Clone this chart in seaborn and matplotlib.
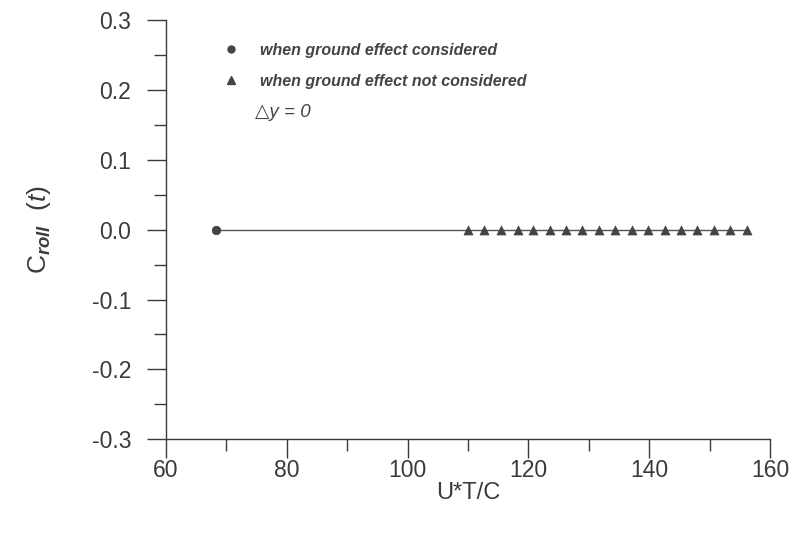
import numpy as np
import pandas as pd
import seaborn as sns
import matplotlib.pyplot as plt
from matplotlib.ticker import MultipleLocator
from matplotlib.lines import Line2D

# data
ge_x = [68.3]
ge_y = [0.0]
noge_x = [110.0, 112.7, 115.4, 118.2, 120.8, 123.5, 126.2, 128.9, 131.7,
          134.4, 137.1, 139.8, 142.6, 145.2, 147.9, 150.7, 153.4, 156.1]
noge_y = [0.0] * len(noge_x)
legend_labels = ["when ground effect considered", "when ground effect not considered"]

sns.set_style("ticks")
plt.rcParams["font.family"] = ["Liberation Sans", "DejaVu Sans"]
plt.rcParams.update({
    "mathtext.fontset": "custom",
    "mathtext.rm": "Liberation Sans",
    "mathtext.it": "Liberation Sans:italic",
    "mathtext.bf": "Liberation Sans:italic:bold",
})

ink = "#3a3a3a"
df_ge = pd.DataFrame({"x": ge_x, "y": ge_y})
df_noge = pd.DataFrame({"x": noge_x, "y": noge_y})
df_line = pd.concat([df_ge, df_noge]).sort_values("x")

fig = plt.figure(figsize=(7.98, 5.33), dpi=100)
ax = fig.add_axes([0.208, 0.176, 0.757, 0.786])

sns.lineplot(data=df_line, x="x", y="y", color="#555555", linewidth=1.0, ax=ax)
sns.scatterplot(data=df_ge, x="x", y="y", marker="o", s=38, color="#444444",
                edgecolor="#444444", ax=ax, zorder=3)
sns.scatterplot(data=df_noge, x="x", y="y", marker="^", s=42, color="#444444",
                edgecolor="#444444", ax=ax, zorder=3)

ax.set_xlim(60, 160)
ax.set_ylim(-0.3, 0.3)
ax.xaxis.set_major_locator(MultipleLocator(20))
ax.xaxis.set_minor_locator(MultipleLocator(10))
ax.yaxis.set_major_locator(MultipleLocator(0.1))
ax.yaxis.set_minor_locator(MultipleLocator(0.05))
ax.set_yticklabels([f"{v:.1f}" for v in ax.get_yticks()])
sns.despine(ax=ax)
for s in ("left", "bottom"):
    ax.spines[s].set_color(ink)
    ax.spines[s].set_linewidth(1.0)
ax.tick_params(axis="both", which="major", length=14, width=1.0, color=ink,
               labelsize=16.5, labelcolor=ink)
ax.tick_params(axis="both", which="minor", length=8.5, width=1.0, color=ink)
ax.tick_params(axis="x", which="major", pad=0)
ax.tick_params(axis="y", which="major", pad=11)

ax.set_xlabel("U*T/C", fontsize=17, color=ink, labelpad=0)
ax.set_ylabel(r"$\mathrm{C}_{\mathbf{roll}}\ \ \mathrm{(}\mathit{t}\mathrm{)}$",
              fontsize=19, color=ink, labelpad=28)

handles = [
    Line2D([], [], marker="o", linestyle="none", color="#444444", markersize=5),
    Line2D([], [], marker="^", linestyle="none", color="#444444", markersize=6),
]
leg = ax.legend(handles, legend_labels, loc="upper left",
                bbox_to_anchor=(0.068, 0.98), frameon=False,
                prop={"style": "italic", "weight": "bold", "size": 11.5},
                handletextpad=1.2, labelspacing=1.0, handlelength=1.2)
for t in leg.get_texts():
    t.set_color("#444444")
ax.text(0.148, 0.77, "△y = 0", transform=ax.transAxes, fontsize=13.5,
        style="italic", color="#444444")

fig.savefig("out.png", dpi=100)
